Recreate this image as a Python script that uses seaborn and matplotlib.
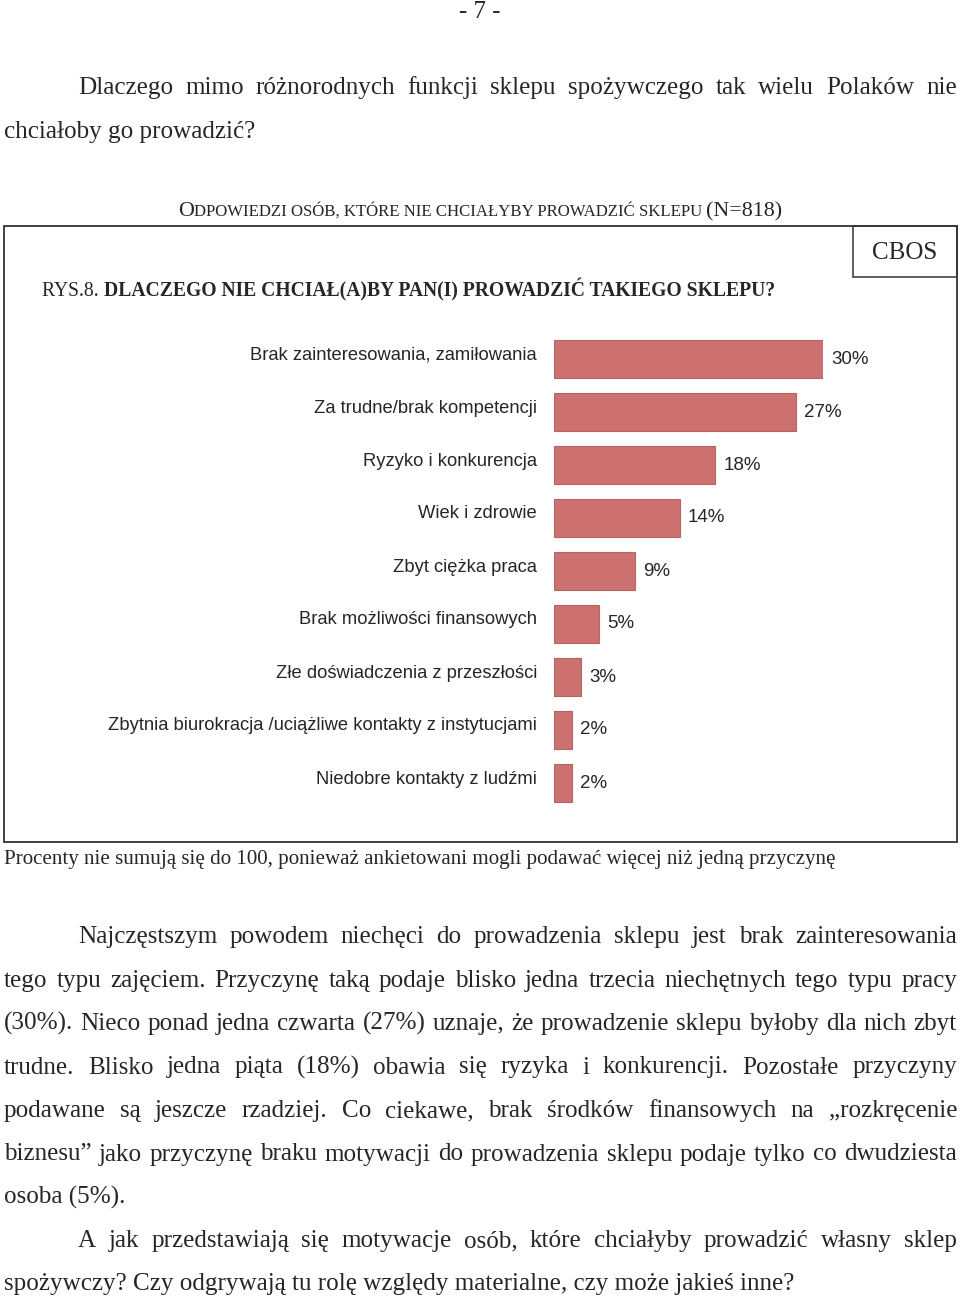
import matplotlib
matplotlib.use("Agg")
import matplotlib.pyplot as plt
import matplotlib.transforms as mtransforms
from matplotlib.patches import Rectangle
import seaborn as sns
import pandas as pd

categories = [
    "Brak zainteresowania, zamiłowania",
    "Za trudne/brak kompetencji",
    "Ryzyko i konkurencja",
    "Wiek i zdrowie",
    "Zbyt ciężka praca",
    "Brak możliwości finansowych",
    "Złe doświadczenia z przeszłości",
    "Zbytnia biurokracja /uciążliwe kontakty z instytucjami",
    "Niedobre kontakty z ludźmi",
]
values = [30, 27, 18, 14, 9, 5, 3, 2, 2]

page_number = "- 7 -"
intro_lines = [
    "Dlaczego mimo różnorodnych funkcji sklepu spożywczego tak wielu Polaków nie",
    "chciałoby go prowadzić?",
]
para2_lines = [
    "Najczęstszym powodem niechęci do prowadzenia sklepu jest brak zainteresowania",
    "tego typu zajęciem. Przyczynę taką podaje blisko jedna trzecia niechętnych tego typu pracy",
    "(30%). Nieco ponad jedna czwarta (27%) uznaje, że prowadzenie sklepu byłoby dla nich zbyt",
    "trudne. Blisko jedna piąta (18%) obawia się ryzyka i konkurencji. Pozostałe przyczyny",
    "podawane są jeszcze rzadziej. Co ciekawe, brak środków finansowych na „rozkręcenie",
    "biznesu” jako przyczynę braku motywacji do prowadzenia sklepu podaje tylko co dwudziesta",
    "osoba (5%).",
]
para3_lines = [
    "A jak przedstawiają się motywacje osób, które chciałyby prowadzić własny sklep",
    "spożywczy? Czy odgrywają tu rolę względy materialne, czy może jakieś inne?",
]
footnote = "Procenty nie sumują się do 100, ponieważ ankietowani mogli podawać więcej niż jedną przyczynę"

SERIF = "Liberation Serif"
SANS = "Liberation Sans"
BODY_SIZE = 18.1
BAR_COLOR = "#cd7070"

sns.set_theme(style="white")
plt.rcParams["font.family"] = [SANS, "DejaVu Sans"]

fig = plt.figure(figsize=(9.6, 12.99), dpi=100)
renderer = fig.canvas.get_renderer()

# page layer in pixel coordinates
page = fig.add_axes([0, 0, 1, 1])
page.set_xlim(0, 960)
page.set_ylim(1299, 0)
page.axis("off")


def text_width(s, size, weight="normal", family=SERIF):
    t = page.text(0, 0, s, fontsize=size, fontweight=weight, family=family)
    w = t.get_window_extent(renderer).width
    t.remove()
    return w


def justified(line, x0, x1, y, size=BODY_SIZE):
    words = line.split(" ")
    widths = [text_width(w, size) for w in words]
    gap = (x1 - x0 - sum(widths)) / max(len(words) - 1, 1)
    x = x0
    for w, wd in zip(words, widths):
        page.text(x, y, w, fontsize=size, family=SERIF, va="baseline")
        x += wd + gap


def left(line, x, y, size=BODY_SIZE, **kw):
    page.text(x, y, line, fontsize=size, family=SERIF, va="baseline", **kw)


def pieces(parts, x, y, ha="left"):
    widths = [text_width(s, sz, wt) for s, sz, wt in parts]
    if ha == "center":
        x -= sum(widths) / 2
    for (s, sz, wt), wd in zip(parts, widths):
        page.text(x, y, s, fontsize=sz, fontweight=wt, family=SERIF, va="baseline")
        x += wd


left(page_number, 480, 18, ha="center")

justified(intro_lines[0], 78, 957, 94)
left(intro_lines[1], 4, 138)

pieces([("O", 15.8, "normal"),
        ("DPOWIEDZI OSÓB, KTÓRE NIE CHCIAŁYBY PROWADZIĆ SKLEPU ", 12.1, "normal"),
        ("(N=818)", 15.8, "normal")], 480, 216, ha="center")

# frame
page.add_patch(Rectangle((4, 226), 953, 616, fill=False, ec="#333333", lw=1.3))
page.add_patch(Rectangle((853, 226), 104, 51, fill=False, ec="#333333", lw=1.1))
page.text(905, 259, "CBOS", fontsize=18, family=SERIF, ha="center", va="baseline")

pieces([("RYS.8. ", 14.1, "normal"),
        ("DLACZEGO NIE CHCIAŁ(A)BY PAN(I) PROWADZIĆ TAKIEGO SKLEPU?", 14.1, "bold")],
       42, 296)

left(footnote, 4, 864, size=15.1)

for i, line in enumerate(para2_lines):
    y = 943 + i * 43.5
    x0 = 78 if i == 0 else 4
    if i < len(para2_lines) - 1:
        justified(line, x0, 957, y)
    else:
        left(line, x0, y)

justified(para3_lines[0], 78, 957, 1247)
left(para3_lines[1], 4, 1290)

# bar chart
df = pd.DataFrame({"reason": categories, "pct": values})
ax = fig.add_axes([554 / 960, 1 - 809.5 / 1299, 269 / 960, 477 / 1299])
sns.barplot(data=df, x="pct", y="reason", orient="h", color=BAR_COLOR,
            saturation=1, width=0.7, edgecolor="#b86262", linewidth=0.8, ax=ax)
ax.set_xlim(0, 30)
ax.set_ylim(len(categories) - 0.5, -0.5)
ax.set_xlabel("")
ax.set_ylabel("")
ax.set_xticks([])
sns.despine(ax=ax, left=True, bottom=True)
ax.tick_params(axis="y", length=0, pad=12.2, labelsize=13.2)
shift = mtransforms.ScaledTranslation(0, 6 / 100, fig.dpi_scale_trans)
for lab in ax.get_yticklabels():
    lab.set_transform(lab.get_transform() + shift)
for cont in ax.containers:
    labels = ax.bar_label(cont, fmt="%d%%", padding=5.8, fontsize=13.5)
    for t in labels:
        t.set_clip_on(False)

fig.savefig("out.png", dpi=100)
